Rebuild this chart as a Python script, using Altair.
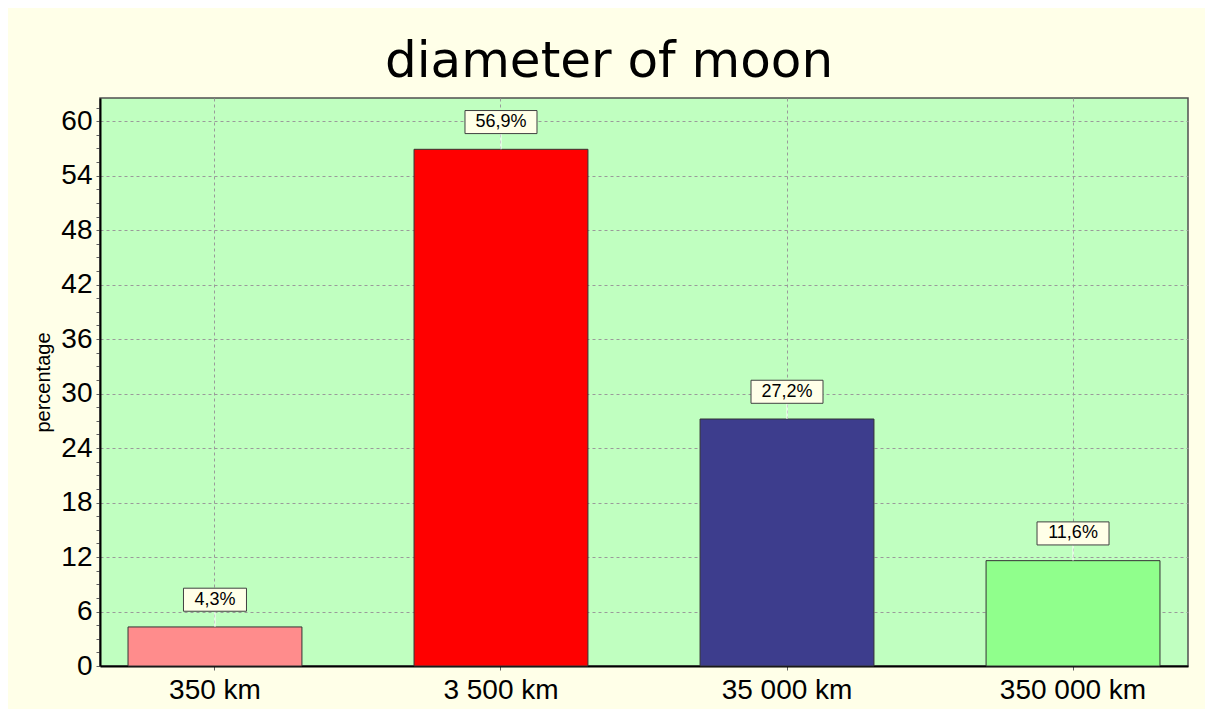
import altair as alt
import pandas as pd

# ---- data ----
categories = ["350 km", "3 500 km", "35 000 km", "350 000 km"]
percentages = [4.3, 56.9, 27.2, 11.6]
y_tick_values = [i * 1.5 for i in range(42)]  # minor ticks every 1.5, labels every 6

palette = ["#FF8C8C", "#FF0000", "#3D3D8D", "#90FF8C"]

df = pd.DataFrame({"cat": categories, "value": percentages})

FONT = "Liberation Sans"
GRID = "#9A9A9A"

x_enc = alt.X(
    "cat:N",
    sort=categories,
    scale=alt.Scale(paddingInner=0.392, paddingOuter=0.098),
    axis=alt.Axis(
        title=None,
        labelAngle=0,
        bandPosition=0.5,
        grid=True,
        gridDash=[3, 3],
        gridColor=GRID,
        gridWidth=1,
        domainColor="#000000",
        domainWidth=2,
        tickColor="#606060",
        tickSize=4,
        labelFont=FONT,
        labelFontSize=28,
        labelColor="#000000",
        labelPadding=6,
    ),
)

y_scale = alt.Scale(domain=[0, 62.55], nice=False, zero=True)
y_axis = alt.Axis(
    title="percentage",
    values=y_tick_values,
    labelExpr="datum.value % 6 === 0 ? datum.label : ''",
    gridOpacity={"expr": "datum.value % 6 === 0 ? 1 : 0"},
    grid=True,
    gridDash=[3, 3],
    gridColor=GRID,
    gridWidth=1,
    domainColor="#000000",
    domainWidth=2,
    tickColor="#606060",
    tickSize=4,
    labelFont=FONT,
    labelFontSize=28,
    labelColor="#000000",
    labelPadding=4,
    titleFont=FONT,
    titleFontSize=20,
    titleFontWeight="normal",
    titleColor="#000000",
    titleAngle=-90,
    titleAlign="center",
    titleBaseline="middle",
    titleX=-57,
    titleY=284,
)

base = alt.Chart(df).transform_calculate(
    lab_y="datum.value + 3",
    label="replace(format(datum.value, '.1f'), '.', ',') + '%'",
    hw="(9 * length(replace(format(datum.value, '.1f'), '.', ',') + '%') + 27) / 72",
).transform_calculate(
    box="'M ' + (-datum.hw) + ' -0.32 H ' + datum.hw + ' V 0.32 H ' + (-datum.hw) + ' Z'"
)

bars = base.mark_bar(stroke="#333333", strokeWidth=1).encode(
    x=x_enc,
    y=alt.Y("value:Q", scale=y_scale, axis=y_axis),
    color=alt.Color("cat:N", sort=categories,
                    scale=alt.Scale(domain=categories, range=palette), legend=None),
)

leader = base.mark_rule(color="white", strokeWidth=1).encode(
    x=x_enc,
    y=alt.Y("value:Q", scale=y_scale, axis=y_axis),
    y2="lab_y:Q",
)

boxes = base.mark_point(
    filled=True, fill="#FFFFE8", stroke="#404040", strokeWidth=1, opacity=1
).encode(
    x=x_enc,
    y=alt.Y("lab_y:Q", scale=y_scale, axis=y_axis),
    shape=alt.Shape("box:N", scale=None),
    size=alt.value(5184),
)

texts = base.mark_text(font=FONT, fontSize=18, baseline="middle", color="#000000").encode(
    x=x_enc,
    y=alt.Y("lab_y:Q", scale=y_scale, axis=y_axis),
    text="label:N",
)

chart = (
    alt.layer(bars, leader, boxes, texts)
    .properties(
        width=1088,
        height=568,
        title=alt.Title(
            "diameter of moon",
            font="DejaVu Sans",
            fontSize=50,
            fontWeight="normal",
            color="#000000",
            anchor="middle",
            baseline="alphabetic",
            offset=22,
            dx=-35,
            dy=51,
        ),
        autosize=alt.AutoSizeParams(type="none"),
        padding={"left": 92, "top": 90, "right": 17, "bottom": 43},
        background="#FFFFE8",
    )
    .configure_view(fill="#C0FFC0", stroke="#505050", strokeWidth=1.5)
)

chart.save("out.html", embed_options={"renderer": "svg", "actions": False})
